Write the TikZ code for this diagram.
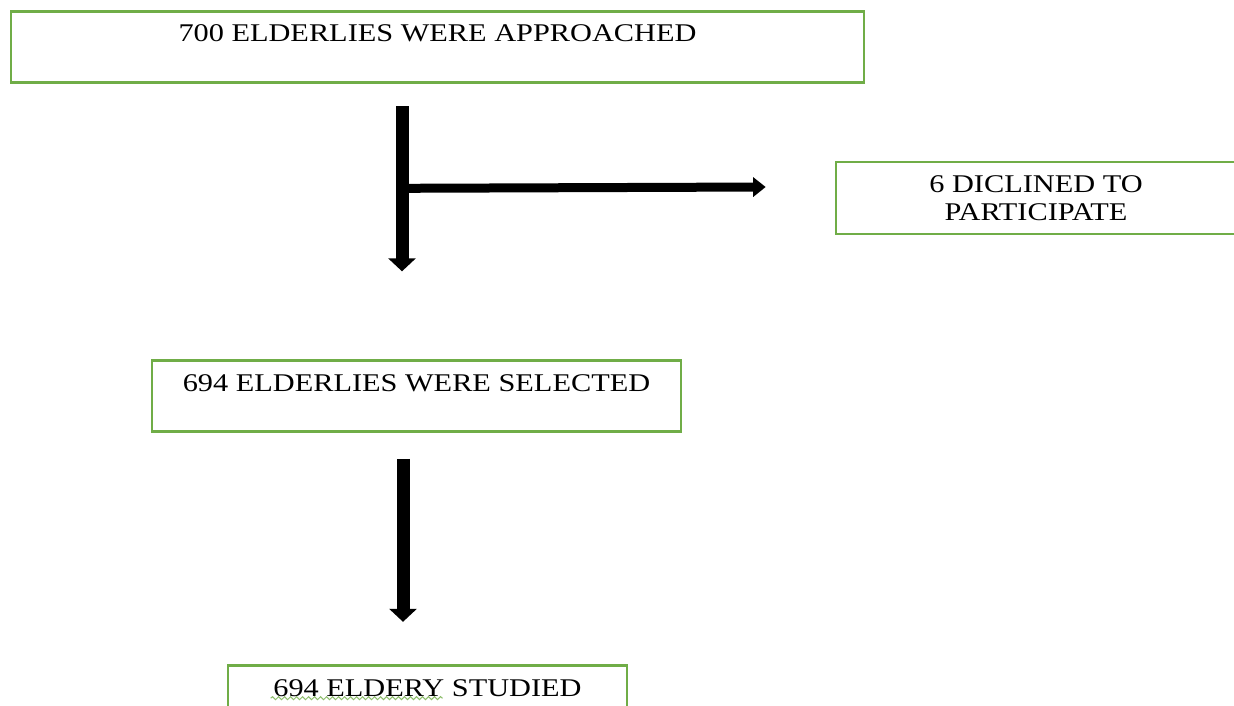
\documentclass[tikz,border=0pt]{standalone}
\usepackage{fontspec}
\setmainfont{Liberation Serif}[FakeStretch=1.19]
\usetikzlibrary{positioning, calc, arrows.meta, decorations.pathmorphing}
\definecolor{boxgreen}{RGB}{112,173,71}
\tikzstyle{topbox} = [rectangle, draw=boxgreen, line width=1.5pt, inner sep=0pt, text height=0.61cm, text depth=0.81cm, text centered]
\tikzstyle{sidebox} = [rectangle, draw=boxgreen, line width=1.5pt, minimum width=8cm, minimum height=1.44cm, align=center]
\tikzstyle{arrow} = [-{Triangle[length=0.26cm, width=0.54cm]}, line width=0.26cm]
\tikzstyle{sidearrow} = [-{Triangle[length=0.25cm, width=0.38cm]}, line width=0.18cm]
\tikzstyle{every node}=[font=\fontsize{14.5}{16}\selectfont]

\begin{document}
\begin{tikzpicture}[node distance=1.5cm]
  \useasboundingbox (0,0) rectangle (24.68,-14.12);
  \clip (0,0) rectangle (24.68,-14.12);
  %boxes
  \node (approach) [topbox, minimum width=17.06cm] at (8.75,-0.94) {700 ELDERLIES WERE APPROACHED};
  \node (decline) [sidebox, right of=approach, xshift=10.47cm, yshift=-3.02cm] {6 DICLINED TO\\PARTICIPATE};
  \node (selected) [topbox, minimum width=10.58cm, below of=approach, xshift=-0.42cm, yshift=-5.48cm] {694 ELDERLIES WERE SELECTED};
  \node (studied) [topbox, minimum width=7.98cm, below of=selected, xshift=0.22cm, yshift=-4.6cm] {694 ELDERY STUDIED};

  %arrows
  \coordinate (split) at ($(approach.south) + (-0.71,-2.09)$);
  \draw [arrow]($(approach.south) + (-0.71,-0.45)$) -- ($(approach.south) + (-0.71,-3.75)$);
  \draw [sidearrow](split) -- ($(decline.west) + (-1.38,0.22)$);
  \draw [arrow]($(selected.south) + (-0.27,-0.52)$) -- ($(selected.south) + (-0.27,-3.78)$);

  %spelling mark
  \draw [boxgreen!80, line width=0.6pt, decorate, decoration={snake, amplitude=0.03cm, segment length=0.12cm}]
    ($(studied.north west) + (0.88,-0.68)$) -- ($(studied.north west) + (4.32,-0.68)$);
\end{tikzpicture}
\end{document}
